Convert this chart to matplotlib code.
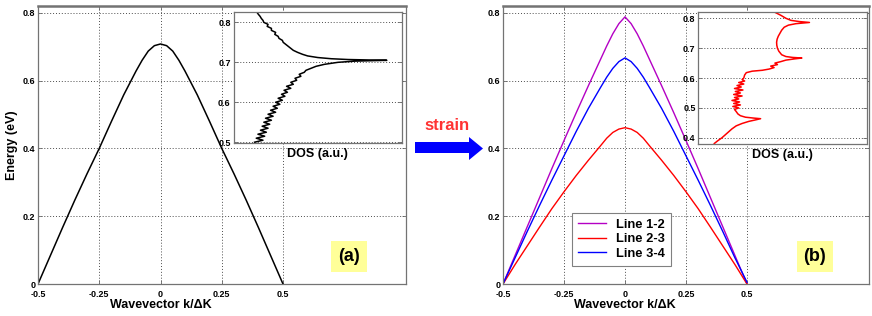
import matplotlib
matplotlib.use('Agg')
import matplotlib.pyplot as plt
from matplotlib.patches import Polygon

plt.rcParams['font.family'] = ['Liberation Sans', 'DejaVu Sans']
plt.rcParams['axes.unicode_minus'] = False

# ---------------- data ----------------
k = [-0.5, -0.45, -0.4, -0.35, -0.3, -0.25, -0.2, -0.15, -0.1, -0.075, -0.05, -0.025, 0.0,
     0.025, 0.05, 0.075, 0.1, 0.15, 0.2, 0.25, 0.3, 0.35, 0.4, 0.45, 0.5]

band_a = [0.0, 0.083, 0.166, 0.247, 0.325, 0.4, 0.48, 0.558, 0.628, 0.66, 0.687, 0.703, 0.708,
          0.703, 0.687, 0.66, 0.628, 0.558, 0.48, 0.4, 0.325, 0.247, 0.166, 0.083, 0.0]

line12 = [0.0, 0.085, 0.17, 0.255, 0.34, 0.423, 0.505, 0.585, 0.663, 0.702, 0.738, 0.768, 0.788,
          0.768, 0.738, 0.702, 0.663, 0.585, 0.505, 0.423, 0.34, 0.255, 0.17, 0.085, 0.0]
line23 = [0.0, 0.058, 0.113, 0.168, 0.222, 0.272, 0.32, 0.365, 0.408, 0.43, 0.447, 0.457, 0.461,
          0.457, 0.447, 0.43, 0.408, 0.365, 0.32, 0.272, 0.222, 0.168, 0.113, 0.058, 0.0]
line34 = [0.0, 0.078, 0.156, 0.232, 0.306, 0.378, 0.45, 0.518, 0.58, 0.61, 0.636, 0.656, 0.667,
          0.656, 0.636, 0.61, 0.58, 0.518, 0.45, 0.378, 0.306, 0.232, 0.156, 0.078, 0.005]

series_labels = ['Line 1-2', 'Line 2-3', 'Line 3-4']

# DOS inset (a): energy and DOS (a.u., fraction of axis width)
dos_a_E = [0.500, 0.505, 0.51, 0.515, 0.52, 0.525, 0.53, 0.535, 0.54, 0.545, 0.55, 0.555, 0.56,
           0.565, 0.57, 0.575, 0.58, 0.585, 0.59, 0.595, 0.60, 0.605, 0.61, 0.615, 0.62, 0.625,
           0.63, 0.635, 0.64, 0.645, 0.65, 0.655, 0.66, 0.665, 0.67, 0.675, 0.68, 0.685, 0.69,
           0.695, 0.70, 0.703, 0.705,
           0.707, 0.709, 0.712, 0.716, 0.72, 0.725, 0.73, 0.735, 0.74, 0.745, 0.75, 0.755, 0.76,
           0.765, 0.77, 0.775, 0.78, 0.785, 0.79, 0.795, 0.80, 0.805, 0.81, 0.815, 0.82, 0.826]
dos_a_val = [0.125, 0.175, 0.135, 0.185, 0.145, 0.195, 0.16, 0.205, 0.17, 0.215, 0.18, 0.225,
             0.19, 0.235, 0.205, 0.25, 0.22, 0.26, 0.235, 0.275, 0.25, 0.29, 0.265, 0.305, 0.285,
             0.32, 0.3, 0.34, 0.315, 0.355, 0.34, 0.375, 0.365, 0.4, 0.39, 0.42, 0.43, 0.46, 0.49,
             0.54, 0.62, 0.72, 0.91,
             0.68, 0.58, 0.5, 0.44, 0.41, 0.38, 0.355, 0.34, 0.325, 0.31, 0.295, 0.29, 0.27,
             0.265, 0.245, 0.25, 0.225, 0.225, 0.2, 0.205, 0.18, 0.175, 0.165, 0.158, 0.148, 0.138]

# DOS inset (b)
dos_b_E = [0.381, 0.39, 0.40, 0.41, 0.42, 0.43, 0.44, 0.448, 0.455, 0.46, 0.464, 0.466, 0.469,
           0.474, 0.48, 0.488, 0.495, 0.50, 0.505, 0.51, 0.515, 0.52, 0.525, 0.53, 0.535, 0.54,
           0.545, 0.55, 0.555, 0.56, 0.565, 0.57, 0.575, 0.58, 0.585, 0.59, 0.595, 0.60, 0.61,
           0.618, 0.623, 0.626, 0.63, 0.635, 0.64, 0.645, 0.65, 0.655, 0.66, 0.664, 0.667, 0.669,
           0.672, 0.678, 0.69, 0.70, 0.71, 0.72, 0.73, 0.74, 0.75, 0.76, 0.77, 0.777, 0.782,
           0.786, 0.789, 0.793, 0.80, 0.81, 0.82]
dos_b_val = [0.095, 0.115, 0.14, 0.16, 0.18, 0.2, 0.225, 0.26, 0.3, 0.34, 0.37, 0.33, 0.28,
             0.25, 0.235, 0.225, 0.215, 0.24, 0.205, 0.25, 0.21, 0.245, 0.2, 0.24, 0.215, 0.26,
             0.21, 0.25, 0.22, 0.265, 0.215, 0.255, 0.23, 0.27, 0.24, 0.275, 0.26, 0.27, 0.275,
             0.285, 0.32, 0.38, 0.42, 0.45, 0.43, 0.47, 0.455, 0.49, 0.52, 0.57, 0.615, 0.56,
             0.52, 0.495, 0.478, 0.47, 0.466, 0.465, 0.468, 0.475, 0.485, 0.495, 0.51, 0.535, 0.58,
             0.66, 0.6, 0.55, 0.52, 0.49, 0.455]

xticks = [-0.5, -0.25, 0, 0.25, 0.5]
xticklabels = ['-0.5', '-0.25', '0', '0.25', '0.5']
yticks = [0, 0.2, 0.4, 0.6, 0.8]
yticklabels = ['0', '0.2', '0.4', '0.6', '0.8']
inset_a_ticks = [0.5, 0.6, 0.7, 0.8]
inset_b_ticks = [0.4, 0.5, 0.6, 0.7, 0.8]

W, H = 872, 316
fig = plt.figure(figsize=(W / 100, H / 100), dpi=100)


def px_axes(x0, y0, x1, y1, **kw):
    return fig.add_axes([x0 / W, 1 - y1 / H, (x1 - x0) / W, (y1 - y0) / H], **kw)


GRID = dict(linestyle=(0, (1, 2)), color='0.3', linewidth=0.7)


def style(ax, top_lw=1.8):
    ax.tick_params(direction='in', length=3, width=0.6, top=True, right=True,
                   labelsize=6.5, pad=2, color='0.4')
    ax.tick_params(axis='x', pad=4)
    for s in ax.spines.values():
        s.set_color('0.45')
        s.set_linewidth(0.9)
    ax.spines['top'].set_linewidth(top_lw)
    for lbl in ax.get_xticklabels() + ax.get_yticklabels():
        lbl.set_fontweight('bold')


def main_axes(ax):
    ax.set_xlim(-0.5, 1.0)
    ax.set_ylim(0, 0.82)
    ax.set_xticks(xticks)
    ax.set_xticklabels(xticklabels)
    ax.set_yticks(yticks)
    ax.set_yticklabels(yticklabels)
    ax.grid(True, **GRID)
    ax.set_axisbelow(True)
    style(ax)
    ax.text(1 / 3, -0.075, 'Wavevector k/ΔK', transform=ax.transAxes, ha='center',
            va='center', fontsize=9, fontweight='bold')


def inset_axes(ax, ylim, ticks):
    ax.set_xlim(0, 1)
    ax.set_ylim(*ylim)
    ax.set_xticks([])
    ax.set_yticks(ticks)
    ax.set_yticklabels([f'{t:.1f}' for t in ticks])
    ax.yaxis.grid(True, **GRID)
    ax.set_axisbelow(True)
    style(ax, top_lw=0.9)
    ax.tick_params(top=False, right=True)
    ax.text(0.5, -0.085, 'DOS (a.u.)', transform=ax.transAxes, ha='center', va='center',
            fontsize=9, fontweight='bold')


# ---------------- panel (a) ----------------
axa = px_axes(38, 6, 405.5, 284)
main_axes(axa)
axa.plot(k, band_a, color='black', lw=1.1)
axa.text(-0.071, 0.5, 'Energy (eV)', transform=axa.transAxes, rotation=90, ha='center',
         va='center', fontsize=9, fontweight='bold')
axa.text(0.846, 0.099, '(a)', transform=axa.transAxes, ha='center', va='center',
         fontsize=13, fontweight='bold',
         bbox=dict(boxstyle='square,pad=0.38', fc='#ffff99', ec='none'))

insa = px_axes(233.5, 12, 402, 143, zorder=5)
inset_axes(insa, (0.498, 0.826), inset_a_ticks)
insa.plot(dos_a_val, dos_a_E, color='black', lw=1.1)

# ---------------- panel (b) ----------------
axb = px_axes(503, 6, 869, 284)
main_axes(axb)
colors = ['#b400c4', '#ff0000', '#0000ff']
for vals, c, lab in zip([line12, line23, line34], colors, series_labels):
    axb.plot(k, vals, color=c, lw=1.0, label=lab)
leg = axb.legend(loc='upper left', bbox_to_anchor=(0.188, 0.256),
                 prop=dict(weight='bold', size=9.3), fancybox=False, edgecolor='0.5',
                 framealpha=1, handlelength=2.2, handletextpad=0.8, labelspacing=0.2,
                 borderpad=0.45, borderaxespad=0)
leg.get_frame().set_linewidth(0.8)
axb.text(0.852, 0.099, '(b)', transform=axb.transAxes, ha='center', va='center',
         fontsize=13, fontweight='bold',
         bbox=dict(boxstyle='square,pad=0.38', fc='#ffff99', ec='none'))

insb = px_axes(698.3, 12, 866.7, 143.5, zorder=5)
inset_axes(insb, (0.381, 0.821), inset_b_ticks)
insb.plot(dos_b_val, dos_b_E, color='#ff0000', lw=1.1)

# ---------------- strain arrow ----------------
arrow_px = [(415, 142), (469, 142), (469, 137), (483, 148.5), (469, 160), (469, 153), (415, 153)]
fig.patches.append(Polygon([(x / W, 1 - y / H) for x, y in arrow_px], closed=True,
                           transform=fig.transFigure, fc='#0000ff', ec='none'))
fig.text(447 / W, 1 - 125 / H, 'strain', color='#ff3333', fontsize=12, fontweight='bold',
         ha='center', va='center')

fig.savefig('out.png', dpi=100)
